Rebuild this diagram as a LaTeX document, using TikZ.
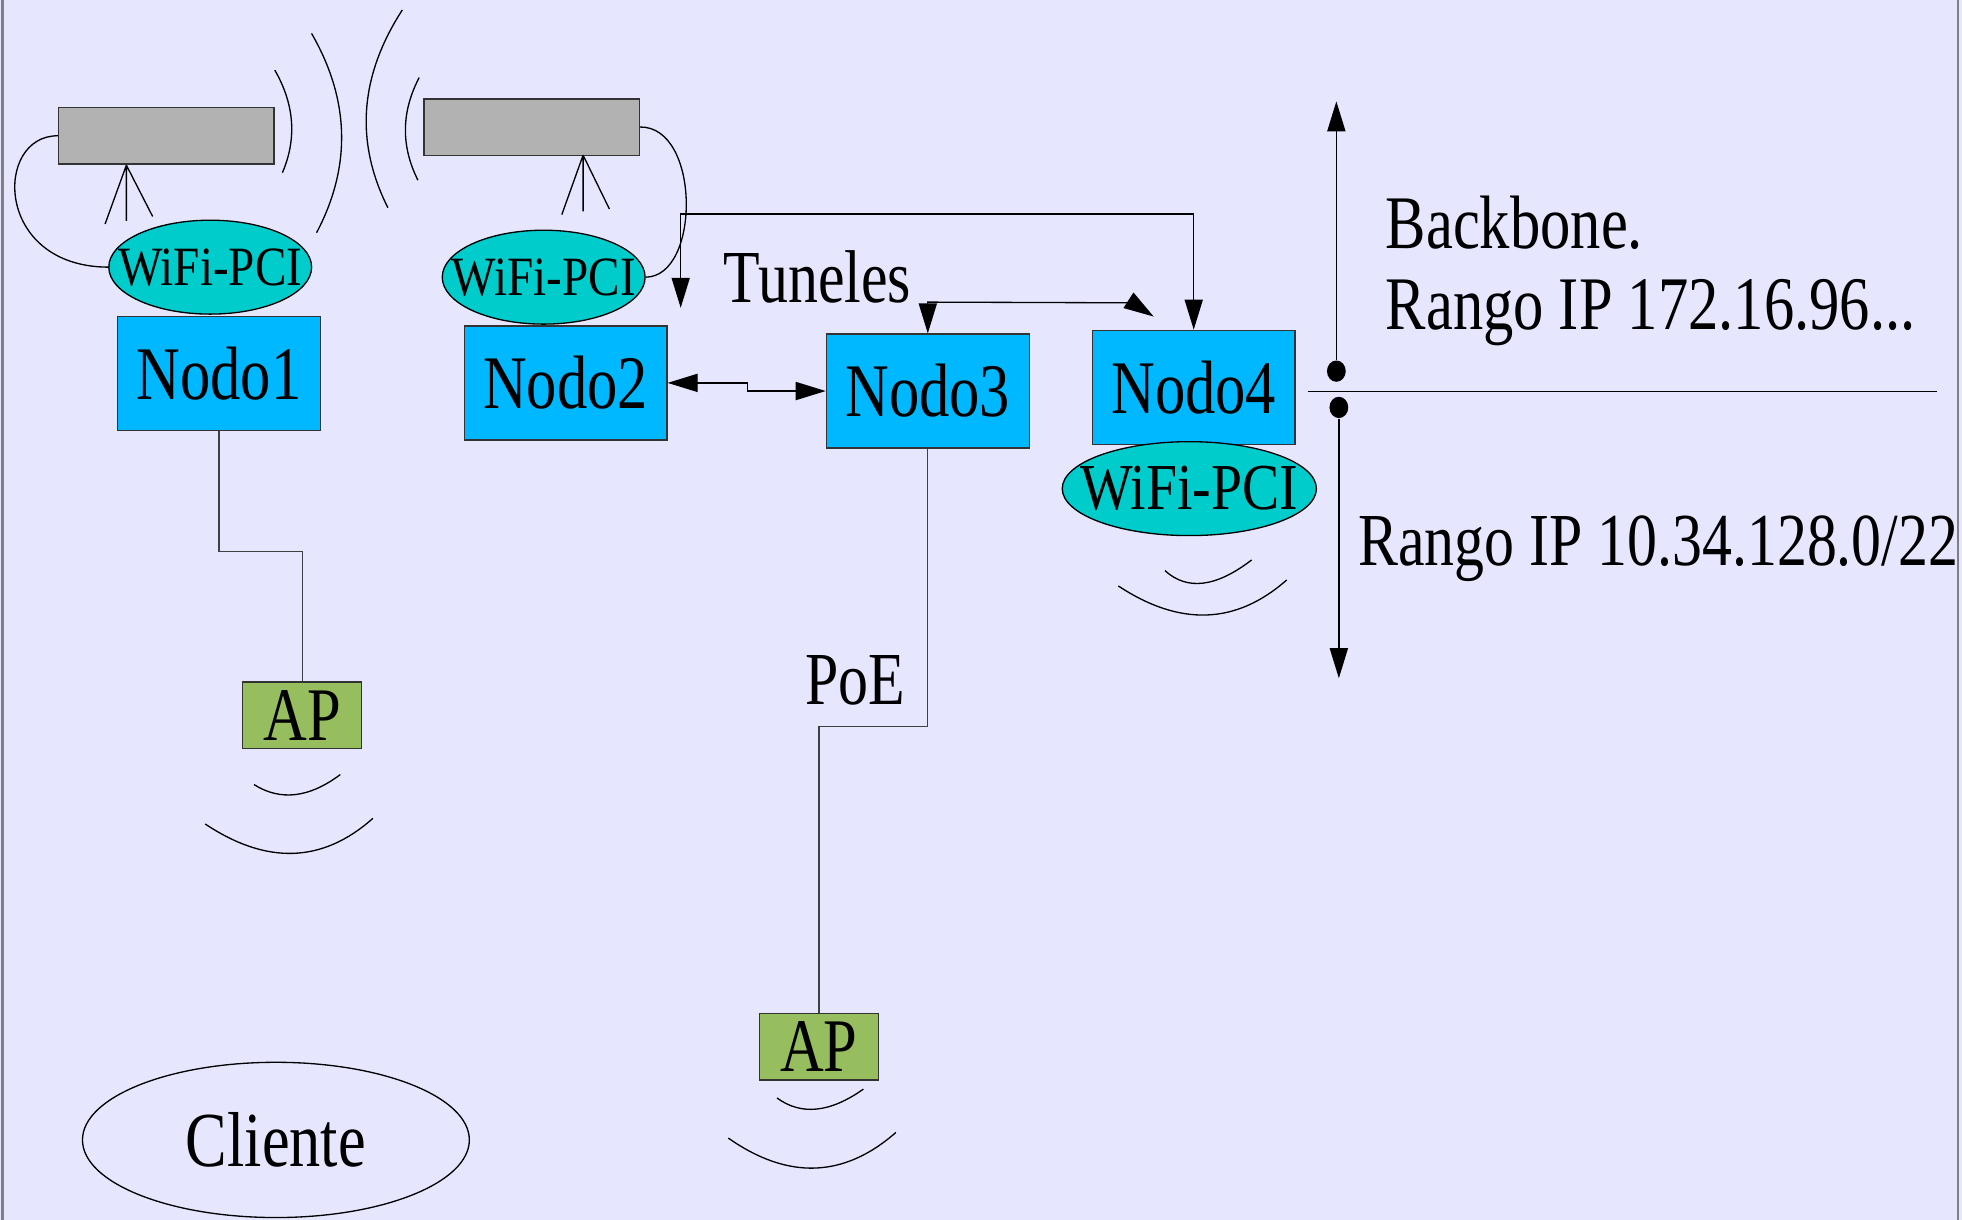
\documentclass[tikz,border=0pt]{standalone}
\usepackage{fontspec}
\setmainfont[FakeStretch=0.8]{Liberation Serif}
\newfontfamily\wififont[FakeStretch=0.85]{Liberation Serif}
\usetikzlibrary{arrows.meta,shapes.geometric}
\definecolor{fondo}{RGB}{230,230,255}
\definecolor{azulnodo}{RGB}{0,184,255}
\definecolor{turquesa}{RGB}{0,204,204}
\definecolor{grisant}{RGB}{178,178,178}
\definecolor{verdeap}{RGB}{150,190,95}

\begin{document}
\begin{tikzpicture}[x=0.01cm,y=-0.01cm,line width=0.3pt,
  >={Triangle[length=2.4mm,width=1.45mm]},
  nodo/.style={draw=black!80, fill=azulnodo, rectangle, minimum width=1.62cm, minimum height=0.91cm, inner sep=0pt, font=\fontsize{17.2}{20}\selectfont},
  wifi/.style={draw, fill=turquesa, ellipse, minimum width=1.62cm, minimum height=0.75cm, inner sep=0pt, font=\wififont\fontsize{12.6}{14}\selectfont},
  antena/.style={draw=black!80, fill=grisant, rectangle, minimum width=1.72cm, minimum height=0.45cm, inner sep=0pt},
  ap/.style={draw=black!80, fill=verdeap, rectangle, minimum width=0.95cm, minimum height=0.53cm, inner sep=0pt, font=\fontsize{17.2}{20}\selectfont},
  punto/.style={fill, ellipse, minimum width=0.15cm, minimum height=0.17cm, inner sep=0pt},
  texto/.style={inner sep=0pt, anchor=base west, font=\fontsize{17}{20}\selectfont}]
\fill[fondo] (0,0) rectangle (1568,975);
\useasboundingbox (0,0) rectangle (1568,975);
\draw[black!50, line width=0.5pt] (2,0) -- (2,975) (1565,0) -- (1565,975);

% antenas
\node[antena] (ant1) at (133,108.5) {};
\node[antena] (ant2) at (425,101.5) {};
\draw (101,132) -- (84,179) (101,132) -- (101,176.5) (101,132) -- (122,173);
\draw (466,124) -- (449,171.5) (466,124) -- (466,169) (466,124) -- (487,167);

% ondas del enlace
\draw (219.6,56) .. controls (235.3,83.3) and (237.4,110.7) .. (225.7,138);
\draw (249,26.7) .. controls (279.6,79.8) and (281,132.9) .. (253,186);
\draw (321.5,8) .. controls (287.4,60.7) and (283.5,113.3) .. (310,166);
\draw (335,62) .. controls (320.7,89.3) and (320.3,116.7) .. (334,144);

% nodos
\node[wifi] (w1) at (168,213.5) {\makebox[0pt]{WiFi-PCI}};
\node[wifi] (w2) at (434.5,221.5) {\makebox[0pt]{WiFi-PCI}};
\node[nodo] (n1) at (175,298.5) {Nodo1};
\node[nodo] (n2) at (452,306) {Nodo2};
\node[nodo] (n3) at (741.5,312.5) {Nodo3};
\node[nodo] (n4) at (954,309.5) {Nodo4};
\node[wifi, minimum width=2.03cm, font=\wififont\fontsize{14.9}{16}\selectfont] (w4) at (950.5,390.5) {\makebox[0pt]{WiFi-PCI}};
\node[ap] (ap1) at (241.5,571.5) {AP};
\node[ap] (ap2) at (654.5,836.5) {AP};
\node[draw, ellipse, minimum width=3.09cm, minimum height=1.24cm, inner sep=0pt, font=\fontsize{17.7}{20}\selectfont] (cli) at (220.5,911) {Cliente};

% cables de antena
\draw (ant1.west) .. controls (-5,108) and (-5,213) .. (w1.west);
\draw (ant2.east) .. controls (560,101) and (560,221) .. (w2.east);

% cables a los AP
\draw[black!75] (n1.south) -- ++(0,96) -| (ap1.north);
\draw[black!75] (n3.south) -- ++(0,222) -| (ap2.north);
\node[texto] (poe) at (643,563) {PoE};

% tuneles
\coordinate (t2) at (544,246);
\coordinate (t3) at (922,253);
\draw[<->] (n2.east) -- ++(64,0) |- (n3.west);
\draw[<->] (t2) -- ++(0,-75) -| (n4.north);
\draw[<->] (n3.north) -- ++(0,-25) -- (905,242) -- (t3);
\node[texto] (tun) at (578,242) {Tuneles};

% ondas de los AP y de Nodo4
\draw (203,627) .. controls (224,640.3) and (247,637.7) .. (272,619);
\draw (164,658.5) .. controls (213.2,691.3) and (257.8,689.8) .. (298,654);
\draw (621,877.5) .. controls (640.3,891.6) and (663.3,889.3) .. (690,870.4);
\draw (582,909.5) .. controls (629.8,943) and (674.4,941.5) .. (716,905);
\draw (931,456) .. controls (948.8,472.2) and (971.9,469.3) .. (1000.3,447.5);
\draw (893.8,468.3) .. controls (943,500.8) and (987.9,499.2) .. (1028.3,463.5);

% rangos
\node[punto] (p1) at (1068,296.6) {};
\node[punto] (p2) at (1070,325.6) {};
\coordinate (b1) at (1068,81);
\coordinate (b2) at (1070,542);
\draw[->] (p1) -- (b1);
\draw[->] (p2) -- (b2);
\draw (1045,313) -- (1548,313);
\node[texto, anchor=north west, align=left, font=\fontsize{17.2}{18.5}\selectfont] (bb) at (1107,156) {Backbone.\\Rango IP 172.16.96...};
\node[texto] (ran) at (1085,452) {Rango IP 10.34.128.0/22};
\end{tikzpicture}
\end{document}
